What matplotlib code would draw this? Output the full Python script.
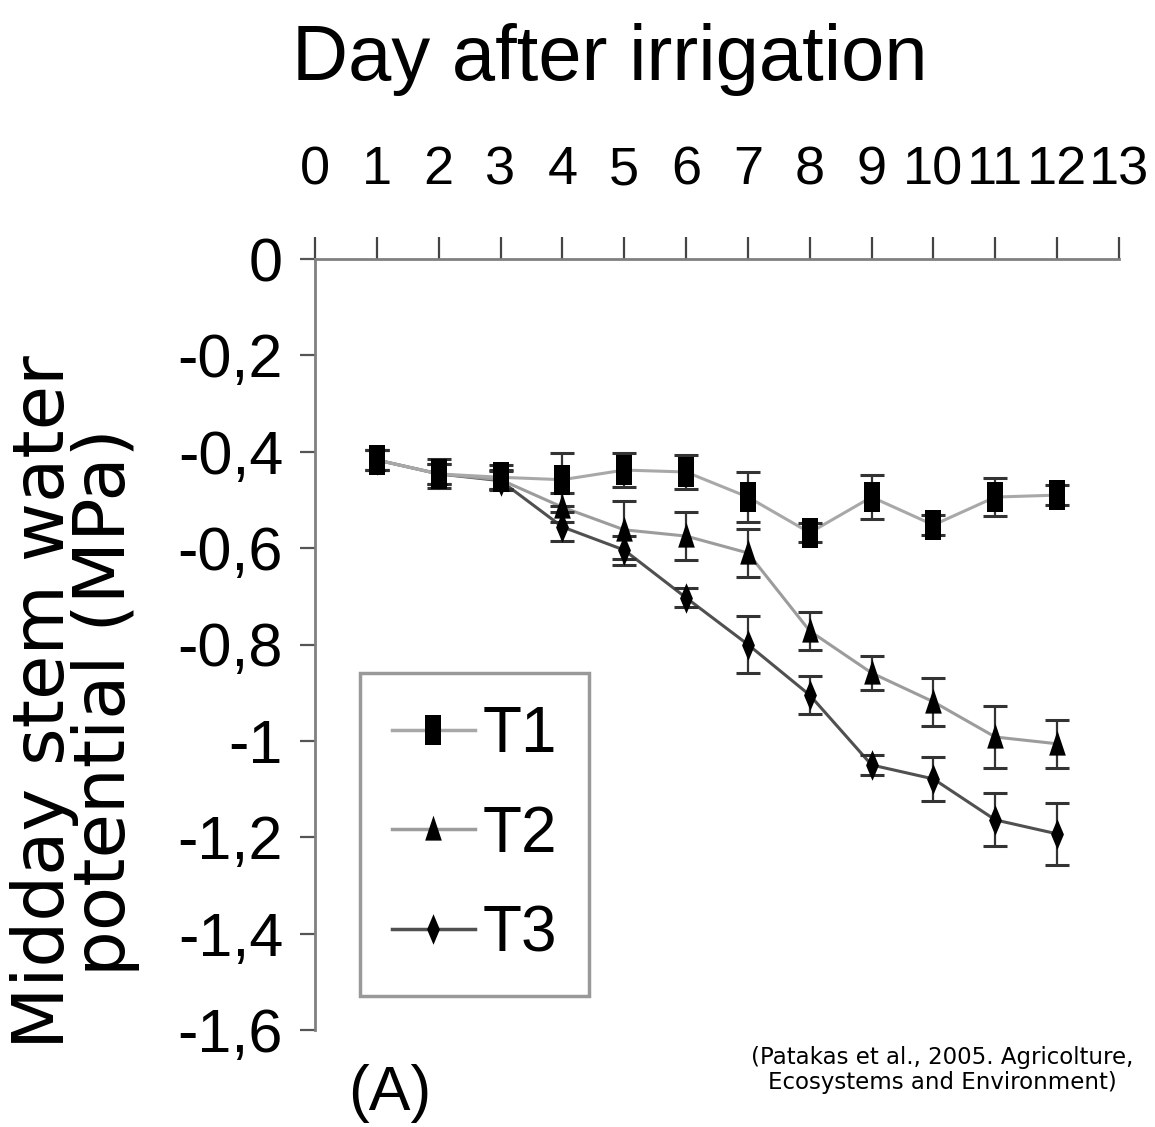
import matplotlib
matplotlib.use('Agg')
import matplotlib.pyplot as plt
from matplotlib.lines import Line2D
from matplotlib.ticker import FixedLocator

NARROW = ['Liberation Sans Narrow', 'DejaVu Sans Condensed', 'Liberation Sans']

days = [1, 2, 3, 4, 5, 6, 7, 8, 9, 10, 11, 12]

t1 = [-0.417, -0.446, -0.453, -0.458, -0.438, -0.442, -0.494, -0.568, -0.494, -0.552, -0.494, -0.490]
t1_err = [0.02, 0.03, 0.025, 0.055, 0.035, 0.035, 0.052, 0.02, 0.045, 0.02, 0.04, 0.02]

t2 = [-0.417, -0.446, -0.458, -0.515, -0.562, -0.575, -0.610, -0.772, -0.859, -0.919, -0.992, -1.006]
t2_err = [0.02, 0.02, 0.02, 0.03, 0.06, 0.05, 0.05, 0.04, 0.035, 0.05, 0.065, 0.05]

t3 = [-0.417, -0.446, -0.460, -0.556, -0.604, -0.703, -0.800, -0.905, -1.050, -1.079, -1.164, -1.193]
t3_err = [0.02, 0.02, 0.02, 0.03, 0.03, 0.02, 0.06, 0.04, 0.02, 0.045, 0.055, 0.065]

series_names = ['T1', 'T2', 'T3']

x_ticks = list(range(0, 14))
y_ticks = [0, -0.2, -0.4, -0.6, -0.8, -1.0, -1.2, -1.4, -1.6]
y_tick_labels = ['0', '-0,2', '-0,4', '-0,6', '-0,8', '-1', '-1,2', '-1,4', '-1,6']

# tall markers (the original picture is stretched vertically)
square = [(-0.5, -1), (0.5, -1), (0.5, 1), (-0.5, 1), (-0.5, -1)]
triangle = [(-0.6, -0.8), (0.6, -0.8), (0, 1), (-0.6, -0.8)]
diamond = [(0, 1), (0.42, 0), (0, -1), (-0.42, 0), (0, 1)]

styles = {
    'T1': dict(marker=square, ms=22, line='#a8a8a8'),
    'T2': dict(marker=triangle, ms=20, line='#9c9c9c'),
    'T3': dict(marker=diamond, ms=22, line='#505050'),
}
data = {'T1': (t1, t1_err), 'T2': (t2, t2_err), 'T3': (t3, t3_err)}

fig = plt.figure(figsize=(11.55, 11.27), dpi=100)
ax = fig.add_axes([315 / 1155, 1 - 1030 / 1127, 804 / 1155, 771 / 1127])

for name in reversed(series_names):
    vals, err = data[name]
    st = styles[name]
    ax.plot(days, vals, color=st['line'], lw=2.2, zorder=2)
    ax.errorbar(days, vals, yerr=err, fmt='none', ecolor='#333333',
                elinewidth=1.6, capsize=8.5, capthick=2.2, zorder=3)
    ax.plot(days, vals, ls='none', marker=st['marker'], ms=st['ms'],
            color='black', mec='black', mew=0, zorder=4)

ax.set_xlim(0, 13)
ax.set_ylim(-1.6, 0)

ax.xaxis.tick_top()
ax.xaxis.set_major_locator(FixedLocator(x_ticks))
ax.set_xticklabels([str(v) for v in x_ticks])
ax.yaxis.set_major_locator(FixedLocator(y_ticks))
ax.set_yticklabels(y_tick_labels)

for lab in ax.get_xticklabels():
    lab.set_family(NARROW)
    lab.set_fontsize(39)
for lab in ax.get_yticklabels():
    lab.set_family(NARROW)
    lab.set_fontsize(44)

ax.tick_params(axis='x', direction='out', length=16, width=1.6, color='#444444', pad=30)
ax.tick_params(axis='y', direction='out', length=11, width=1.6, color='#555555', pad=12)

for side in ['bottom', 'right']:
    ax.spines[side].set_visible(False)
for side in ['top', 'left']:
    ax.spines[side].set_color('#808080')
    ax.spines[side].set_linewidth(2.0)

handles = []
for name in series_names:
    st = styles[name]
    handles.append(Line2D([0], [0], color=st['line'], lw=2.5, marker=st['marker'],
                          ms=st['ms'], mfc='black', mec='black', mew=0))
leg = ax.legend(handles, series_names, loc='upper left',
                bbox_to_anchor=(360 / 1155, 1 - 673 / 1127), bbox_transform=fig.transFigure,
                prop={'family': NARROW, 'size': 46}, frameon=True, fancybox=False,
                handlelength=1.3, handletextpad=0.12, labelspacing=0.62,
                borderpad=0.5, borderaxespad=0)
leg.get_frame().set_edgecolor('#808080')
leg.get_frame().set_linewidth(2.5)

fig.text(610 / 1155, 1 - 80 / 1127, 'Day after irrigation', ha='center', va='baseline',
         family=NARROW, fontsize=56)

fig.text(75 / 1155, 1 - 702 / 1127, 'Midday stem water\npotential (MPa)', rotation=90,
         ha='center', va='center', family='DejaVu Sans', fontsize=52,
         linespacing=0.85, multialignment='center')

fig.text(390 / 1155, 1 - 1110 / 1127, '(A)', ha='center', va='baseline',
         family=NARROW, fontsize=45)

fig.text(942 / 1155, 1 - 1070 / 1127,
         '(Patakas et al., 2005. Agricolture,\nEcosystems and Environment)',
         ha='center', va='center', family='DejaVu Sans', fontsize=16.5, linespacing=1.1)

fig.savefig('out.png', dpi=100)
